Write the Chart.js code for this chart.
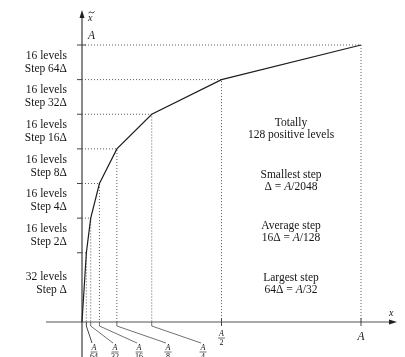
<!DOCTYPE html>
<html>
<head>
<meta charset="utf-8">
<script src="https://cdn.jsdelivr.net/npm/chart.js@4.4.0/dist/chart.umd.min.js"></script>
<style>
  html, body { margin: 0; padding: 0; background: #fff; }
  canvas { display: block; }
</style>
</head>
<body>
<canvas id="chart" width="405" height="357"></canvas>
<script>
// break points of the segmented curve: x in units of A, y in quantisation levels
const xBreaks = [0, 1/64, 1/32, 1/16, 1/8, 1/4, 1/2, 1];
const levels = [0, 32, 48, 64, 80, 96, 112, 128];
// denominators of the x tick labels A/64 ... A/2
const xDenoms = ['64', '32', '16', '8', '4', '2'];
// text left of the y axis, one pair per segment (bottom to top)
const segLabels = [
  ['32 levels', 'Step Δ'],
  ['16 levels', 'Step 2Δ'],
  ['16 levels', 'Step 4Δ'],
  ['16 levels', 'Step 8Δ'],
  ['16 levels', 'Step 16Δ'],
  ['16 levels', 'Step 32Δ'],
  ['16 levels', 'Step 64Δ']
];
// notes on the right, [text, style] runs
const notes = [
  [[['Totally', '']], [['128 positive levels', '']]],
  [[['Smallest step', '']], [['Δ = ', ''], ['A', 'italic'], ['/2048', '']]],
  [[['Average step', '']], [['16Δ = ', ''], ['A', 'italic'], ['/128', '']]],
  [[['Largest step', '']], [['64Δ = ', ''], ['A', 'italic'], ['/32', '']]]
];

// layout (pixels)
const notesX = 291;
const notesY = [123, 175, 226, 278];
const fracX = [94, 115, 139, 168, 203];
const SERIF = '"Liberation Serif", "DejaVu Serif", serif';
const INK = '#151515';

const curve = xBreaks.map((x, i) => ({ x: x, y: levels[i] }));

const datasets = [{
  data: curve,
  showLine: true,
  borderColor: '#1e1e1e',
  borderWidth: 1.2,
  pointRadius: 0,
  order: 0
}];

// dotted guide lines: from y axis to each break point, then down to the x axis
for (let i = 1; i < xBreaks.length; i++) {
  datasets.push({
    data: [{ x: 0, y: levels[i] }, { x: xBreaks[i], y: levels[i] }, { x: xBreaks[i], y: 0 }],
    showLine: true,
    borderColor: '#5a5a5a',
    borderWidth: 1,
    borderDash: [1, 2],
    pointRadius: 0,
    order: 1
  });
}

function richWidth(ctx, runs, size) {
  let w = 0;
  runs.forEach(r => {
    ctx.font = (r[1] ? r[1] + ' ' : '') + size + 'px ' + SERIF;
    w += ctx.measureText(r[0]).width;
  });
  return w;
}

function drawRich(ctx, runs, cx, y, size) {
  let x = cx - richWidth(ctx, runs, size) / 2;
  ctx.textAlign = 'left';
  runs.forEach(r => {
    ctx.font = (r[1] ? r[1] + ' ' : '') + size + 'px ' + SERIF;
    ctx.fillText(r[0], x, y);
    x += ctx.measureText(r[0]).width;
  });
}

function drawFrac(ctx, cx, cy, den) {
  ctx.textAlign = 'center';
  ctx.textBaseline = 'alphabetic';
  ctx.font = 'italic 8px ' + SERIF;
  ctx.fillText('A', cx, cy - 1.5);
  ctx.font = '8px ' + SERIF;
  ctx.fillText(den, cx, cy + 7);
  ctx.beginPath();
  ctx.moveTo(cx - 3.5, cy + 0.5);
  ctx.lineTo(cx + 3.5, cy + 0.5);
  ctx.lineWidth = 0.7;
  ctx.stroke();
}

const decorations = {
  id: 'decorations',
  beforeDatasetsDraw(chart) {
    const ctx = chart.ctx;
    const xs = chart.scales.x, ys = chart.scales.y;
    const x0 = xs.getPixelForValue(0), y0 = ys.getPixelForValue(0);
    ctx.save();
    // x axis
    ctx.strokeStyle = '#8c8c8c';
    ctx.lineWidth = 1.5;
    ctx.beginPath();
    ctx.moveTo(46, y0);
    ctx.lineTo(392, y0);
    ctx.stroke();
    ctx.fillStyle = '#222';
    ctx.beginPath();
    ctx.moveTo(397, y0);
    ctx.lineTo(389, y0 - 2.5);
    ctx.lineTo(389, y0 + 2.5);
    ctx.closePath();
    ctx.fill();
    // y axis
    ctx.strokeStyle = '#3c3c3c';
    ctx.lineWidth = 1.2;
    ctx.beginPath();
    ctx.moveTo(x0, chart.height);
    ctx.lineTo(x0, 16);
    ctx.stroke();
    ctx.beginPath();
    ctx.moveTo(x0, 10);
    ctx.lineTo(x0 - 2.5, 18);
    ctx.lineTo(x0 + 2.5, 18);
    ctx.closePath();
    ctx.fill();
    // ticks on the y axis
    ctx.lineWidth = 1;
    ctx.strokeStyle = '#444';
    for (let i = 1; i < levels.length; i++) {
      const py = ys.getPixelForValue(levels[i]);
      ctx.beginPath();
      ctx.moveTo(x0 - 5, py);
      ctx.lineTo(x0 + (i === levels.length - 1 ? 4 : 0), py);
      ctx.stroke();
    }
    // ticks at A/2 and A on the x axis
    [0.5, 1].forEach(v => {
      const px = xs.getPixelForValue(v);
      ctx.beginPath();
      ctx.moveTo(px, y0 - 4);
      ctx.lineTo(px, y0 + 4);
      ctx.stroke();
    });
    ctx.restore();
  },
  afterDatasetsDraw(chart) {
    const ctx = chart.ctx;
    const xs = chart.scales.x, ys = chart.scales.y;
    const x0 = xs.getPixelForValue(0), y0 = ys.getPixelForValue(0);
    ctx.save();
    ctx.fillStyle = INK;
    ctx.strokeStyle = INK;
    ctx.textBaseline = 'middle';

    // labels left of the y axis
    ctx.font = '11.5px ' + SERIF;
    ctx.textAlign = 'right';
    segLabels.forEach((pair, i) => {
      const mid = (ys.getPixelForValue(levels[i]) + ys.getPixelForValue(levels[i + 1])) / 2 - (i === 0 ? 4 : 0);
      ctx.fillText(pair[0], 67, mid - 6.5);
      ctx.fillText(pair[1], 67, mid + 6.5);
    });

    // notes on the right
    notes.forEach((n, i) => {
      drawRich(ctx, n[0], notesX, notesY[i], 11.5);
      drawRich(ctx, n[1], notesX, notesY[i] + 11.5, 11.5);
    });

    // axis names and A marks
    ctx.textAlign = 'left';
    ctx.font = 'italic 10px ' + SERIF;
    ctx.fillText('x', x0 + 6, 18);
    // tilde over the x
    ctx.lineWidth = 0.8;
    ctx.beginPath();
    ctx.moveTo(x0 + 6.5, 13);
    ctx.quadraticCurveTo(x0 + 8, 11, x0 + 9.5, 12.5);
    ctx.quadraticCurveTo(x0 + 11, 14, x0 + 12.5, 11.5);
    ctx.stroke();
    ctx.fillText('x', 389, 313);
    ctx.font = 'italic 11.5px ' + SERIF;
    ctx.fillText('A', x0 + 6, ys.getPixelForValue(128) - 9);
    ctx.textAlign = 'center';
    ctx.fillText('A', xs.getPixelForValue(1), y0 + 15);

    // fraction labels with leader lines
    ctx.lineWidth = 0.9;
    ctx.strokeStyle = '#333';
    for (let i = 0; i < fracX.length; i++) {
      const px = xs.getPixelForValue(xBreaks[i + 1]);
      ctx.beginPath();
      ctx.moveTo(px, y0);
      ctx.lineTo(px, y0 + 4);
      ctx.lineTo(fracX[i] - 2, 343);
      ctx.stroke();
      drawFrac(ctx, fracX[i], 351.5, xDenoms[i]);
    }
    drawFrac(ctx, xs.getPixelForValue(0.5), 337.5, xDenoms[5]);
    ctx.restore();
  }
};

new Chart(document.getElementById('chart'), {
  type: 'scatter',
  data: { datasets: datasets },
  options: {
    responsive: false,
    animation: false,
    devicePixelRatio: 1,
    layout: { padding: 0 },
    plugins: { legend: { display: false }, tooltip: { enabled: false } },
    scales: {
      x: { type: 'linear', display: false, min: -0.2939, max: 1.1577 },
      y: { type: 'linear', display: false, min: -16.17, max: 148.79 }
    }
  },
  plugins: [decorations]
});
</script>
</body>
</html>
